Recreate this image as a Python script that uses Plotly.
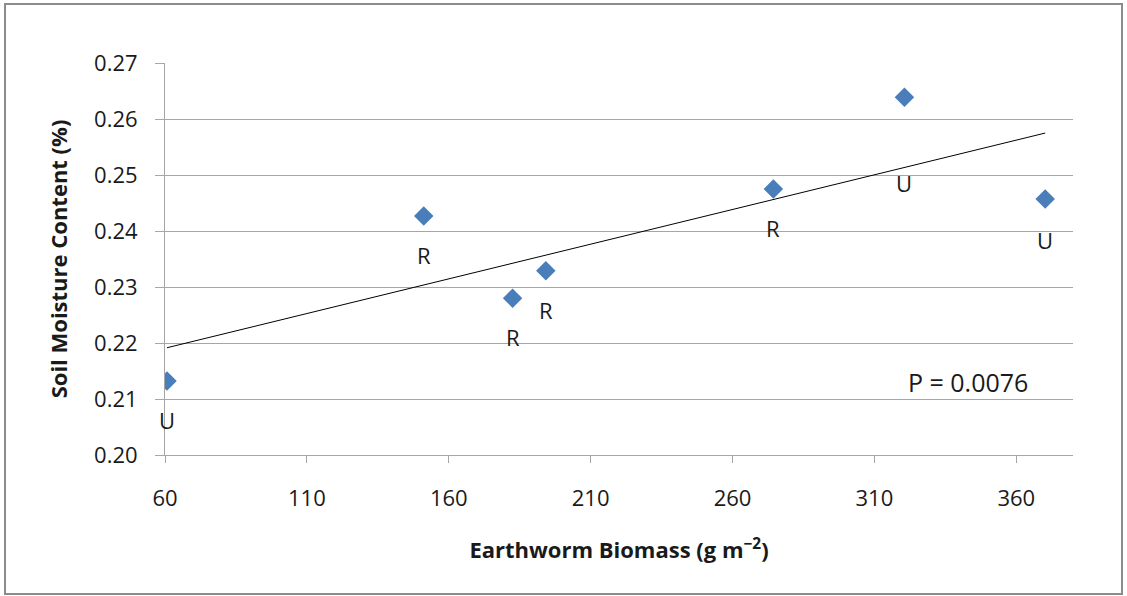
import numpy as np
import plotly.graph_objects as go

# Data
biomass = [60.7, 151.2, 182.5, 194.2, 274.4, 320.6, 370.2]
moisture = [0.2132, 0.2427, 0.2280, 0.2329, 0.2475, 0.2639, 0.2457]
site = ["U", "R", "R", "R", "R", "U", "U"]
p_text = "P = 0.0076"

x_ticks = [60, 110, 160, 210, 260, 310, 360]
y_ticks = [0.20, 0.21, 0.22, 0.23, 0.24, 0.25, 0.26, 0.27]

# label vertical offsets (px) - styling
label_shift = [-39, -39, -39, -39, -39, -86, -41]

FONT = "Open Sans"
GRID = "#a6a6a6"
TXT = "#1a1a1a"
X_RANGE = [60, 380]

slope, intercept = np.polyfit(biomass, moisture, 1)
tx = [min(biomass), max(biomass)]
ty = [slope * v + intercept for v in tx]

fig = go.Figure()
fig.add_trace(go.Scatter(x=tx, y=ty, mode="lines",
                         line=dict(color="#000000", width=1), hoverinfo="skip",
                         showlegend=False))
fig.add_trace(go.Scatter(x=biomass, y=moisture, mode="markers",
                         marker=dict(symbol="diamond", size=15, color="#4a7ebb"),
                         showlegend=False))
# helper trace so the tick-mark axis (x2) is drawn
fig.add_trace(go.Scatter(x=[None], y=[None], xaxis="x2", mode="markers",
                         showlegend=False, hoverinfo="skip"))

for xv, yv, s, sh in zip(biomass, moisture, site, label_shift):
    fig.add_annotation(x=xv, y=yv, text=s, showarrow=False, yshift=sh,
                       font=dict(family=FONT, size=22, color=TXT))

fig.add_annotation(x=343, y=0.2130, text=p_text, showarrow=False,
                   font=dict(family=FONT, size=25, color=TXT))

# outer chart border
L, R_, T, B = 165, 54, 63, 141
W, H = 1127, 596
pw, ph = W - L - R_, H - T - B
fig.add_shape(type="rect", xref="paper", yref="paper",
              x0=(5 - L) / pw, x1=(1122 - L) / pw,
              y0=(H - B - 594) / ph, y1=(H - B - 4) / ph,
              line=dict(color="#8c8c8c", width=2), layer="below")

fig.update_layout(
    width=W, height=H,
    margin=dict(l=L, r=R_, t=T, b=B, pad=0),
    paper_bgcolor="white", plot_bgcolor="white",
    font=dict(family=FONT, color=TXT),
    xaxis=dict(range=X_RANGE, tickvals=x_ticks, ticktext=[str(v) for v in x_ticks],
               showgrid=False, zeroline=False, showline=True, linecolor=GRID, linewidth=1,
               ticks="outside", ticklen=24, tickcolor="rgba(0,0,0,0)",
               tickfont=dict(family=FONT, size=22, color=TXT),
               title=dict(text="<b>Earthworm Biomass (g m<sup>−2</sup>)</b>",
                          font=dict(family=FONT, size=22, color=TXT), standoff=31)),
    xaxis2=dict(range=X_RANGE, tickvals=x_ticks, overlaying="x", anchor="y", side="bottom",
                showticklabels=False, showgrid=False, zeroline=False, showline=False,
                ticks="outside", ticklen=7, tickcolor=GRID),
    yaxis=dict(range=[0.20, 0.27], tickvals=y_ticks, ticktext=[f"{v:.2f}" for v in y_ticks],
               showgrid=True, gridcolor=GRID, gridwidth=1, zeroline=False,
               showline=True, linecolor=GRID, linewidth=1,
               ticks="outside", ticklen=9, tickcolor=GRID,
               tickfont=dict(family=FONT, size=22, color=TXT), ticklabelstandoff=13,
               title=dict(text="<b>Soil Moisture Content (%)</b>",
                          font=dict(family=FONT, size=22, color=TXT), standoff=20)),
)

fig.write_html("out.html", config={"displayModeBar": False},
               post_script="document.body.style.margin='0';")
